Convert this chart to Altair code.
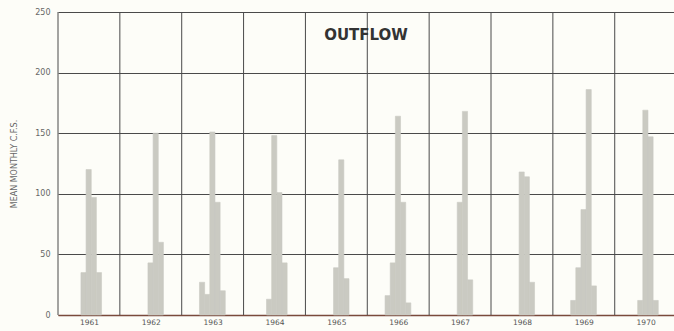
import altair as alt
import pandas as pd

# Mean monthly outflow (c.f.s.) for each year; each list starts at the given month
years = [1961, 1962, 1963, 1964, 1965, 1966, 1967, 1968, 1969, 1970]
first_month = [5, 6, 4, 5, 6, 4, 6, 6, 4, 5]
monthly_cfs = [
    [35, 120, 97, 35],
    [43, 150, 60],
    [27, 17, 151, 93, 20],
    [13, 148, 101, 43],
    [39, 128, 30],
    [16, 43, 164, 93, 10],
    [93, 168, 29],
    [118, 114, 27],
    [12, 39, 87, 186, 24],
    [12, 169, 147, 12],
]
y_ticks = [0, 50, 100, 150, 200, 250]

rows = []
for yr, m0, vals in zip(years, first_month, monthly_cfs):
    for i, v in enumerate(vals):
        rows.append({"year": yr, "month": m0 + i, "cfs": v})
flow = pd.DataFrame(rows)
dividers = pd.DataFrame({"m": [(yr - years[0]) * 12 for yr in years]})

x_scale = alt.Scale(domain=[0, 119.5], nice=False, zero=False)
y_scale = alt.Scale(domain=[0, 250], nice=False)

bars = (
    alt.Chart(flow)
    .transform_calculate(
        x0="(datum.year - 1961) * 12 + datum.month - 0.55",
        x1="(datum.year - 1961) * 12 + datum.month + 0.45",
    )
    .mark_rect(color="#cacac2", opacity=1, stroke="#cacac2", strokeWidth=0.6)
    .encode(
        x=alt.X(
            "x0:Q",
            scale=x_scale,
            axis=alt.Axis(
                values=[(yr - years[0]) * 12 + 6 for yr in years],
                labelExpr="'' + (1961 + floor(datum.value / 12))",
                grid=False,
                ticks=False,
                domain=True,
                domainColor="#7a4a3c",
                domainWidth=1.6,
                labelFontSize=7.5,
                labelColor="#555",
                labelFont="DejaVu Sans",
                labelPadding=3,
                title=None,
            ),
        ),
        x2="x1:Q",
        y=alt.Y(
            "cfs:Q",
            scale=y_scale,
            axis=alt.Axis(
                values=y_ticks,
                grid=True,
                gridColor="#4a4a4a",
                gridWidth=1,
                gridOpacity=1,
                ticks=False,
                domain=False,
                labelFontSize=8,
                labelColor="#666",
                labelFont="DejaVu Sans",
                labelPadding=8,
                title="MEAN MONTHLY C.F.S.",
                titleFontSize=8,
                titleFontWeight="normal",
                titleColor="#666",
                titleFont="DejaVu Sans",
                titlePadding=16,
            ),
        ),
        y2=alt.datum(0),
    )
)

rules = (
    alt.Chart(dividers)
    .mark_rule(color="#4a4a4a", strokeWidth=1)
    .encode(x=alt.X("m:Q", scale=x_scale))
)

chart = (
    alt.layer(bars, rules)
    .properties(
        width=616,
        height=303,
        autosize=alt.AutoSizeParams(type="none"),
        padding={"left": 58, "top": 12, "right": 0, "bottom": 16},
        background="#fdfdf8",
        title=alt.TitleParams(
            "OUTFLOW",
            fontSize=15,
            font="DejaVu Sans",
            fontWeight="bold",
            color="#333",
            anchor="middle",
            offset=-35,
        ),
    )
    .configure_view(stroke=None)
)

chart.save("out.html", embed_options={"renderer": "svg", "actions": False})
